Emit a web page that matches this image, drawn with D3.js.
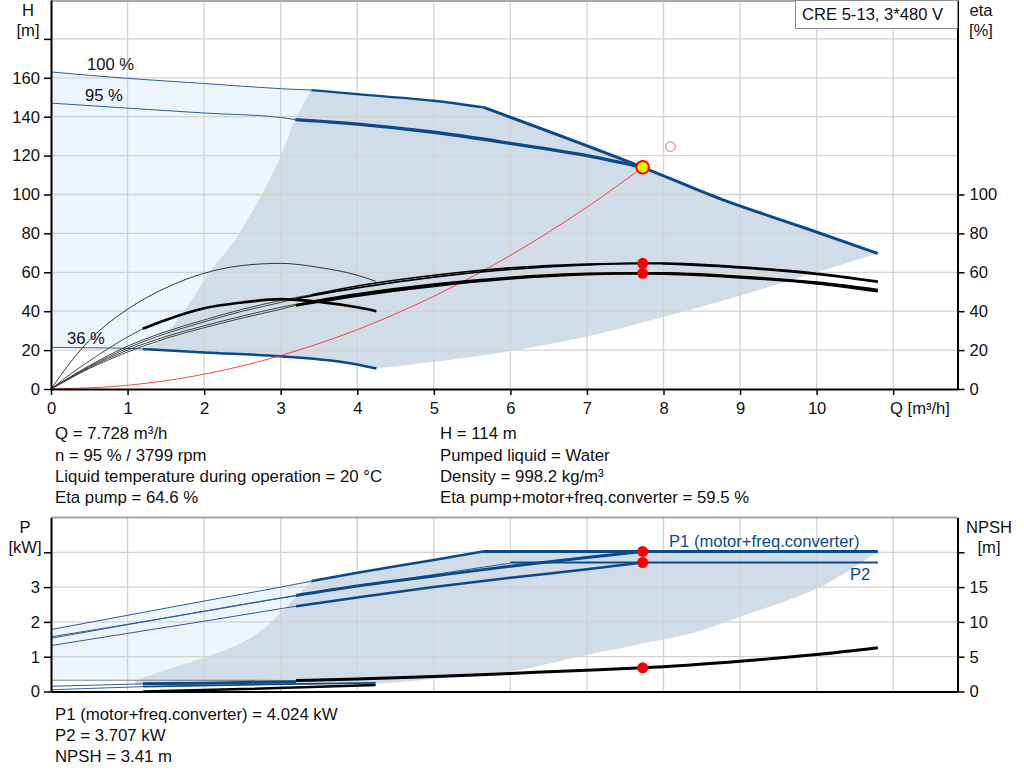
<!DOCTYPE html>
<html><head><meta charset="utf-8">
<script src="https://cdn.jsdelivr.net/npm/d3@7"></script>
<style>
html,body{margin:0;padding:0;background:#fff;}
svg{display:block;font-family:"Liberation Sans",Arial,sans-serif;}
</style></head><body>
<svg id="c" width="1024" height="781"></svg>
<script>
// ---------- tick values ----------
const qTicks = [0,1,2,3,4,5,6,7,8,9,10,11];
const hTicks = [0,20,40,60,80,100,120,140,160,180];
const etaTicks = [0,20,40,60,80,100];
const pTicks = [0,1,2,3,4];
const npshTicks = [0,5,10,15,20];

// ---------- head curves [Q m3/h, H m] ----------
const head100Thin = [[0,163],[1,159.7],[2,157.1],[3,154.4],[3.4,153.7]];
const head100Thick = [[3.4,153.7],[4,151.6],[5,148.2],[5.65,144.8]];
const headLimit = [[5.65,144.8],[7.728,114],[8.76,97.5],[9.8,83.4],[10.8,69.7]];
const head95Thin = [[0,147],[1,144.4],[2,141.9],[3,139.6],[3.19,138.5]];
const head95Thick = [[3.19,138.5],[4,136.2],[5,132],[6,126.3],[7,120],[7.728,114]];
const head36Thin = [[0,21.4],[0.5,21.2],[1,20.9],[1.2,20.6]];
const head36Thick = [[1.2,20.6],[2,18.8],[3,16.8],[4,12.6],[4.25,10.5]];
const minFlowEdge = [[1.2,20.6],[1.42,25],[1.77,42],[2.06,59.5],[2.4,76.5],[2.71,97],[2.99,119],[3.19,138.5],[3.4,153.7]];
const maxFlowEdge = [[4.25,10.5],[5,14],[6,19.5],[7,27],[8,37],[9,48],[10,60],[10.8,69.7]];
const systemCurve = [[0,0],[1,1.9],[2,7.6],[3,17.2],[4,30.5],[5,47.7],[6,68.7],[7,93.5],[7.728,114]];

// ---------- efficiency curves [Q, eta %] ----------
const etaPump100Thin = [[0,0],[0.5,12],[1,22],[1.5,29.5],[2,35.5],[2.5,41],[3,45.5],[3.4,48.5]];
const etaPump100Thick = [[3.4,48.5],[4,53],[5,58.5],[6,62.3],[7,64.2],[8,64.7],[9,62.8],[10,59.5],[10.8,55.5]];
const etaPump95Thin = [[0,0],[0.5,11.5],[1,21],[1.5,28.5],[2,34.5],[2.5,40],[3,44.5],[3.2,46.5]];
const etaPump95Thick = [[3.2,46.5],[4,52],[5,57.5],[6,61.5],[7,63.8],[7.728,64.6],[8,64.4],[9,62.3],[10,59],[10.8,55]];
const etaTot100Thin = [[0,0],[0.5,11],[1,20],[1.5,27],[2,32.5],[2.5,37.5],[3,42],[3.4,45]];
const etaTot100Thick = [[3.4,45],[4,48.8],[5,53.8],[6,57.3],[7,59.3],[8,59.6],[9,57.8],[10,54.8],[10.8,51]];
const etaTot95Thin = [[0,0],[0.5,10.5],[1,19],[1.5,26],[2,31.5],[2.5,36.5],[3,41],[3.2,43]];
const etaTot95Thick = [[3.2,43],[4,48],[5,53],[6,56.8],[7,59],[7.728,59.5],[8,59.3],[9,57.4],[10,54.3],[10.8,50.3]];
const etaPump36 = [[0,0],[0.25,13.5],[0.5,25],[1,41],[1.5,52],[2,59.5],[2.5,63.5],[3,64.6],[3.5,62.5],[4,58.5],[4.24,55.4]];
const etaTot36Thin = [[0,0],[0.3,9],[0.6,17],[0.9,24.5],[1.2,31]];
const etaTot36Thick = [[1.2,31],[1.5,35.5],[2,41.5],[2.5,44.5],[3,46.2],[3.5,44.8],[4,42],[4.25,40]];

// ---------- power curves [Q, P kW] ----------
const p1Max100Thin = [[0,1.78],[1,2.19],[2,2.6],[3,3.0],[3.4,3.17]];
const p1Max100Thick = [[3.4,3.17],[4,3.41],[5,3.78],[5.64,4.02]];
const p1Limit = [[5.64,4.02],[10.8,4.02]];
const p2Max100Thin = [[0,1.57],[1,1.93],[2,2.3],[3,2.68],[4,3.02],[5,3.36],[6,3.69]];
const p2Limit = [[6,3.707],[10.8,3.707]];
const p1n95Thin = [[0,1.53],[1,1.92],[2,2.31],[3,2.69],[3.2,2.76]];
const p1n95Thick = [[3.2,2.76],[4,3.03],[5,3.32],[6,3.6],[7,3.85],[7.728,4.024]];
const p2n95Thin = [[0,1.32],[1,1.67],[2,2.02],[3,2.38],[3.2,2.45]];
const p2n95Thick = [[3.2,2.45],[4,2.7],[5,3.0],[6,3.27],[7,3.51],[7.728,3.707]];
const p36aThin = [[0,0.15],[1.2,0.22]];
const p36aThick = [[1.2,0.22],[2,0.24],[3.2,0.28]];
const p36bThin = [[0,0.05],[1.2,0.14]];
const p36b = [[1.2,0.14],[2.5,0.19],[4.24,0.25]];
const powerMinEdge = [[1.1,0.32],[1.5,0.62],[2,0.98],[2.4,1.3],[2.7,1.68],[2.95,2.15],[3.15,2.6],[3.4,3.17]];
const powerMaxEdge = [[1.1,0.2],[2,0.21],[3,0.22],[4.25,0.23],[5,0.36],[5.87,0.52],[7,1.05],[8,1.5],[8.44,1.72],[9,2.15],[10.05,3.0],[10.8,4.02]];

// ---------- NPSH [Q, m] ----------
const npshThin = [[0,1.62],[1,1.62],[2,1.6],[3.2,1.58]];
const npshThick = [[3.2,1.58],[4,1.8],[5,2.15],[6,2.6],[7,3.05],[7.728,3.41],[8,3.57],[9,4.35],[10,5.3],[10.8,6.28]];
const npsh36 = [[1.2,0],[2.5,0.35],[4.24,0.93]];

// ---------- duty point ----------
const duty = {q:7.728, h:114, etaPump:64.6, etaTot:59.5, p1:4.024, p2:3.707, npsh:3.41};
const hollowMarker = [8.09,124.6];

// ---------- texts ----------
const title = "CRE 5-13, 3*480 V";
const infoLeft = ["Q = 7.728 m³/h","n = 95 % / 3799 rpm","Liquid temperature during operation = 20 °C","Eta pump = 64.6 %"];
const infoRight = ["H = 114 m","Pumped liquid = Water","Density = 998.2 kg/m³","Eta pump+motor+freq.converter = 59.5 %"];
const infoBottom = ["P1 (motor+freq.converter) = 4.024 kW","P2 = 3.707 kW","NPSH = 3.41 m"];
const speedLabels = ["100 %","95 %","36 %"];

// ================= drawing =================
const BLUE = "#0b4a8a", BLUE_THIN = "#2f5f93", RED = "#ff0000";
const LIGHT = "#edf5fc", GRAY = "#d0dce7", GRID = "#d2d2d2";
const svg = d3.select("#c");
const FS = 16.6, FS_INFO = 16.8;

const x = d3.scaleLinear().domain([0, 11.84]).range([51, 957.5]);
const yH = d3.scaleLinear().domain([0, 200]).range([389, 0]);
const yE = d3.scaleLinear().domain([0, 200]).range([389, 0]);
const yP = d3.scaleLinear().domain([0, 5]).range([691.5, 517.5]);
const yN = d3.scaleLinear().domain([0, 25]).range([691.5, 517.5]);

function seg(pts, sy, curve) {
  return d3.line().x(d => x(d[0])).y(d => sy(d[1])).curve(curve || d3.curveCatmullRom.alpha(0.5))(pts);
}
function poly(segs, sy) {
  return segs.map((s, i) => { const p = seg(s, sy); return i === 0 ? p : "L" + p.slice(1); }).join("") + "Z";
}
const rev = a => a.slice().reverse();
function path(g, pts, sy, color, w) {
  g.append("path").attr("d", seg(pts, sy, d3.curveMonotoneX)).attr("fill", "none").attr("stroke", color)
    .attr("stroke-width", w).attr("stroke-linejoin", "round").attr("stroke-linecap", "butt");
}

// ---------- upper chart ----------
const up = svg.append("g");
up.append("path").attr("d", poly([head100Thin, rev(minFlowEdge), rev(head36Thin)], yH)).attr("fill", LIGHT);
up.append("path").attr("d", poly([head100Thick, headLimit, rev(maxFlowEdge), rev(head36Thick), minFlowEdge], yH)).attr("fill", GRAY);

// grid
up.selectAll(".gx").data(qTicks.slice(1)).join("line")
  .attr("x1", d => x(d)).attr("x2", d => x(d)).attr("y1", yH(200)).attr("y2", yH(0))
  .attr("stroke", GRID).attr("stroke-width", 1.3);
up.selectAll(".gy").data(hTicks.slice(1)).join("line")
  .attr("x1", x(0)).attr("x2", x(11.84)).attr("y1", d => yH(d)).attr("y2", d => yH(d))
  .attr("stroke", GRID).attr("stroke-width", 1.3);
up.append("line").attr("x1", x(0)).attr("x2", x(11.84)).attr("y1", 1).attr("y2", 1).attr("stroke", "#a6a6a6").attr("stroke-width", 2);

// head curves
path(up, head100Thin, yH, BLUE_THIN, 1);
path(up, head95Thin, yH, BLUE_THIN, 1);
path(up, head36Thin, yH, BLUE_THIN, 1);
path(up, head100Thick, yH, BLUE, 2.3);
path(up, headLimit, yH, BLUE, 3);
path(up, head95Thick, yH, BLUE, 3.3);
path(up, head36Thick, yH, BLUE, 2.5);
// system curve
path(up, systemCurve, yH, "#ff3030", 0.9);
// efficiency curves
[etaPump100Thin, etaPump95Thin, etaTot100Thin, etaTot95Thin, etaTot36Thin].forEach(c => path(up, c, yE, "#333", 0.9));
path(up, etaPump36, yE, "#222", 0.9);
path(up, etaTot36Thick, yE, "#000", 2.6);
path(up, etaPump100Thick, yE, "#000", 1.6);
path(up, etaPump95Thick, yE, "#000", 1.8);
path(up, etaTot100Thick, yE, "#000", 2.2);
path(up, etaTot95Thick, yE, "#000", 2.6);

// axes
function styleAxis(g) {
  g.selectAll(".domain").attr("stroke", "#000").attr("stroke-width", 2);
  g.selectAll(".tick line").attr("stroke", "#000").attr("stroke-width", 1.5);
  g.selectAll(".tick text").attr("font-size", FS).attr("fill", "#111").attr("font-family", '"Liberation Sans",Arial,sans-serif');
}
up.append("g").attr("transform", `translate(${x(0)},0)`)
  .call(d3.axisLeft(yH).tickValues(hTicks).tickFormat(d => d === 180 ? "" : d).tickSize(7).tickSizeOuter(0).tickPadding(4))
  .call(styleAxis);
up.append("g").attr("transform", `translate(${x(11.84)},0)`)
  .call(d3.axisRight(yE).tickValues(etaTicks).tickSize(7).tickSizeOuter(0).tickPadding(5))
  .call(styleAxis);
up.append("g").attr("transform", `translate(0,${yH(0)})`)
  .call(d3.axisBottom(x).tickValues(qTicks).tickFormat(d => d === 11 ? "" : d).tickSize(6).tickSizeOuter(0).tickPadding(7))
  .call(styleAxis);

// markers
up.append("circle").attr("cx", x(hollowMarker[0])).attr("cy", yH(hollowMarker[1])).attr("r", 4.8)
  .attr("fill", "none").attr("stroke", "#e86a6a").attr("stroke-width", 1);
[duty.etaPump, duty.etaTot].forEach(v => up.append("circle").attr("cx", x(duty.q)).attr("cy", yE(v)).attr("r", 5.5).attr("fill", RED));
up.append("circle").attr("cx", x(duty.q)).attr("cy", yH(duty.h)).attr("r", 6.3)
  .attr("fill", "#ffff00").attr("stroke", RED).attr("stroke-width", 2);

// labels
const txt = (g, s, xx, yy, anchor, color, fs) => g.append("text").text(s).attr("x", xx).attr("y", yy)
  .attr("font-size", fs || FS).attr("fill", color || "#111").attr("text-anchor", anchor || "start");
txt(up, "H", 28, 16, "middle");
txt(up, "[m]", 28, 36, "middle");
txt(up, "eta", 981, 16, "middle");
txt(up, "[%]", 981, 36, "middle");
txt(up, "Q [m³/h]", 890, 414, "start");
const lblPos = [[87, 70], [85, 101], [67, 344]];
speedLabels.forEach((l, i) => txt(up, l, lblPos[i][0], lblPos[i][1], "start"));
up.append("rect").attr("x", 795.5).attr("y", 0.5).attr("width", 162).attr("height", 28).attr("fill", "#fff").attr("stroke", "#8c8c8c");
txt(up, title, 802, 20, "start");

infoLeft.forEach((s, i) => txt(svg, s, 55, 439.3 + i * 21.3, "start", null, FS_INFO));
infoRight.forEach((s, i) => txt(svg, s, 440, 439.3 + i * 21.3, "start", null, FS_INFO));

// ---------- lower chart ----------
const lo = svg.append("g");
lo.append("path").attr("d", poly([p1Max100Thin, rev(powerMinEdge), [[1.1, 0.32], [0, 0.32]]], yP)).attr("fill", LIGHT);
lo.append("path").attr("d", poly([powerMinEdge, p1Max100Thick, p1Limit, rev(powerMaxEdge)], yP)).attr("fill", GRAY);
lo.selectAll(".gx").data(qTicks.slice(1)).join("line")
  .attr("x1", d => x(d)).attr("x2", d => x(d)).attr("y1", yP(5)).attr("y2", yP(0))
  .attr("stroke", GRID).attr("stroke-width", 1.3);
lo.selectAll(".gy").data(pTicks.slice(1)).join("line")
  .attr("x1", x(0)).attr("x2", x(11.84)).attr("y1", d => yP(d)).attr("y2", d => yP(d))
  .attr("stroke", GRID).attr("stroke-width", 1.3);
lo.append("line").attr("x1", x(0)).attr("x2", x(11.84)).attr("y1", yP(5)).attr("y2", yP(5)).attr("stroke", "#a6a6a6").attr("stroke-width", 2);

[p1Max100Thin, p2Max100Thin, p1n95Thin, p2n95Thin, p36aThin, p36bThin].forEach(c => path(lo, c, yP, BLUE_THIN, 1));
path(lo, npshThin, yN, "#8a8a8a", 1.2);
path(lo, p1Max100Thick, yP, BLUE, 2.5);
path(lo, p1Limit, yP, BLUE, 3);
path(lo, p2Limit, yP, BLUE, 2);
path(lo, p1n95Thick, yP, BLUE, 3);
path(lo, p2n95Thick, yP, BLUE, 2.5);
path(lo, p36b, yP, BLUE, 1.8);
path(lo, p36aThick, yP, BLUE, 3);
path(lo, npsh36, yN, "#000", 2.5);
path(lo, npshThick, yN, "#000", 3);

lo.append("g").attr("transform", `translate(${x(0)},0)`)
  .call(d3.axisLeft(yP).tickValues(pTicks).tickFormat(d => d === 4 ? "" : d).tickSize(7).tickSizeOuter(0).tickPadding(4))
  .call(styleAxis);
lo.append("g").attr("transform", `translate(${x(11.84)},0)`)
  .call(d3.axisRight(yN).tickValues(npshTicks).tickFormat(d => d === 20 ? "" : d).tickSize(7).tickSizeOuter(0).tickPadding(5))
  .call(styleAxis);
lo.append("g").attr("transform", `translate(0,${yP(0)})`)
  .call(d3.axisBottom(x).tickValues([]).tickSizeOuter(0))
  .call(styleAxis);

[[duty.p1, yP], [duty.p2, yP], [duty.npsh, yN]].forEach(([v, s]) =>
  lo.append("circle").attr("cx", x(duty.q)).attr("cy", s(v)).attr("r", 5.5).attr("fill", RED));

txt(lo, "P", 25, 533, "middle");
txt(lo, "[kW]", 25, 553, "middle");
txt(lo, "NPSH", 989, 533, "middle");
txt(lo, "[m]", 989, 553, "middle");
txt(lo, "P1 (motor+freq.converter)", 669, 547, "start", BLUE);
txt(lo, "P2", 850, 580, "start", BLUE);
infoBottom.forEach((s, i) => txt(svg, s, 55, 719.7 + i * 21.3, "start", null, FS_INFO));
</script>
</body></html>
